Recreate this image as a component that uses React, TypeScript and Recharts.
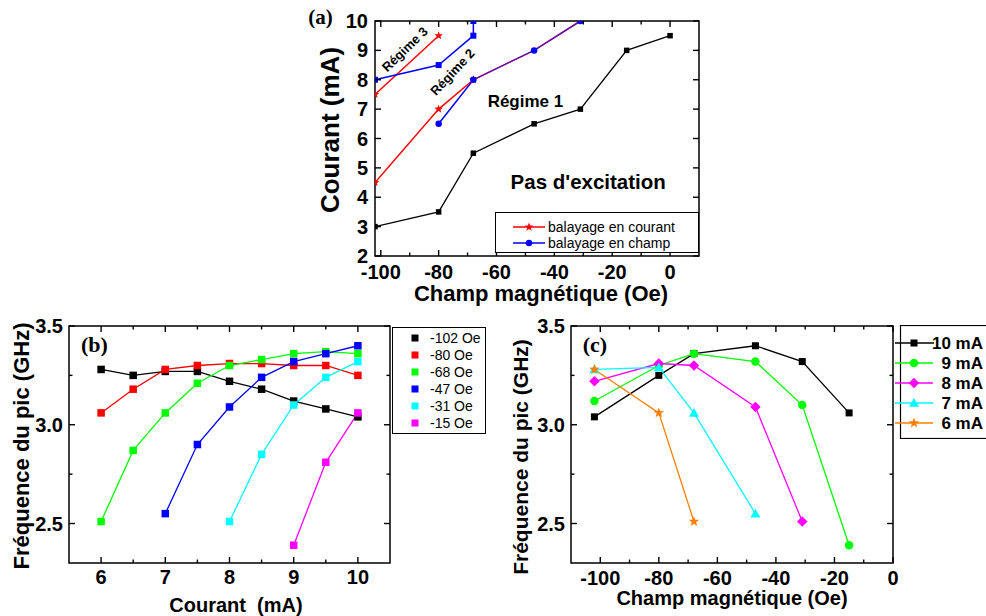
import React from 'react';
import { LineChart, Line, XAxis, YAxis, ReferenceArea, ReferenceDot, Legend } from 'recharts';

const FONT = "'Liberation Sans', Arial, Helvetica, sans-serif";
const SERIF = "'Liberation Serif', 'Times New Roman', serif";

// ---------------- Panel (a): Courant vs Champ ----------------
const fieldRegime1 = [-102, -80, -68, -47, -31, -15, 0];
const currentRegime1 = [3, 3.5, 5.5, 6.5, 7, 9, 9.5];
const fieldCourantLow = [-102, -80, -68];
const currentCourantLow = [4.5, 7, 8];
const fieldCourantShared = [-68, -47, -31];
const currentCourantShared = [8, 9, 10];
const fieldCourantHigh = [-102, -80];
const currentCourantHigh = [7.5, 9.5];
const fieldChampLow = [-80, -68, -47, -31];
const currentChampLow = [6.5, 8, 9, 10];
const fieldChampHigh = [-102, -80, -68, -68];
const currentChampHigh = [8, 8.5, 9.5, 10];
const ticksAX = [-100, -90, -80, -70, -60, -50, -40, -30, -20, -10, 0];
const labelsAX = [-100, -80, -60, -40, -20, 0];
const ticksAY = [2, 3, 4, 5, 6, 7, 8, 9, 10];

// ---------------- Panel (b): Fréquence vs Courant ----------------
const currentsB = [6, 6.5, 7, 7.5, 8, 8.5, 9, 9.5, 10];
const freqM102 = [3.28, 3.25, 3.27, 3.27, 3.22, 3.18, 3.12, 3.08, 3.04];
const freqM80 = [3.06, 3.18, 3.28, 3.30, 3.31, 3.31, 3.30, 3.30, 3.25];
const freqM68 = [2.51, 2.87, 3.06, 3.21, 3.30, 3.33, 3.36, 3.37, 3.36];
const freqM47 = [2.55, 2.90, 3.09, 3.24, 3.32, 3.36, 3.40];
const freqM31 = [2.51, 2.85, 3.10, 3.24, 3.32];
const freqM15 = [2.39, 2.81, 3.06];
const namesB = ['-102 Oe', '-80 Oe', '-68 Oe', '-47 Oe', '-31 Oe', '-15 Oe'];
const colorsB = ['#000000', '#ff0000', '#00ff00', '#0000ff', '#00ffff', '#ff00ff'];
const ticksBX = [6, 6.5, 7, 7.5, 8, 8.5, 9, 9.5, 10];
const labelsBX = [6, 7, 8, 9, 10];
const ticksFreq = [2.5, 2.75, 3, 3.25, 3.5];
const labelsFreq = [2.5, 3, 3.5];

// ---------------- Panel (c): Fréquence vs Champ ----------------
const fieldsC = [-102, -80, -68, -47, -31, -15];
const freq10mA = [3.04, 3.25, 3.36, 3.40, 3.32, 3.06];
const freq9mA = [3.12, 3.30, 3.36, 3.32, 3.10, 2.39];
const freq8mA = [3.22, 3.31, 3.30, 3.09, 2.51];
const freq7mA = [3.28, 3.29, 3.06, 2.55];
const freq6mA = [3.28, 3.06, 2.51];
const namesC = ['10 mA', '9 mA', '8 mA', '7 mA', '6 mA'];
const colorsC = ['#000000', '#00ff00', '#ff00ff', '#00ffff', '#ff8000'];
const shapesC = ['square', 'circle', 'diamond', 'triangle', 'star'];
const sizesC = [7, 8.5, 10.5, 10, 11];
const ticksCX = [-100, -90, -80, -70, -60, -50, -40, -30, -20, -10, 0];
const labelsCX = [-100, -80, -60, -40, -20, 0];

type Pt = { x: number; y: number };
const zip = (xs: number[], ys: number[]): Pt[] => xs.map((x, i) => ({ x, y: ys[i] }));

function starPath(cx: number, cy: number, R: number) {
  const r = R * 0.42;
  let d = '';
  for (let i = 0; i < 10; i++) {
    const rad = i % 2 === 0 ? R : r;
    const a = -Math.PI / 2 + (i * Math.PI) / 5;
    d += (i === 0 ? 'M' : 'L') + (cx + rad * Math.cos(a)).toFixed(2) + ',' + (cy + rad * Math.sin(a)).toFixed(2);
  }
  return d + 'Z';
}

function Marker({ shape, cx, cy, size, color }: { shape: string; cx: number; cy: number; size: number; color: string }) {
  if (cx == null || cy == null || isNaN(cx) || isNaN(cy)) return null;
  const h = size / 2;
  switch (shape) {
    case 'square':
      return <rect x={cx - h} y={cy - h} width={size} height={size} fill={color} />;
    case 'circle':
      return <circle cx={cx} cy={cy} r={h} fill={color} />;
    case 'diamond':
      return <path d={`M${cx},${cy - h}L${cx + h},${cy}L${cx},${cy + h}L${cx - h},${cy}Z`} fill={color} />;
    case 'triangle':
      return <path d={`M${cx},${cy - h}L${cx + h},${cy + h * 0.75}L${cx - h},${cy + h * 0.75}Z`} fill={color} />;
    case 'star':
      return <path d={starPath(cx, cy, h)} fill={color} />;
  }
  return null;
}

const dotOf = (shape: string, size: number, color: string) => (p: any) => (
  <Marker key={`d${p.index}`} shape={shape} cx={p.cx} cy={p.cy} size={size} color={color} />
);

const fmtInt = (v: number) => String(v);
const fmt1 = (v: number) => v.toFixed(1);

function xTick(plotH: number, labels: number[], dy: number, fmt: (v: number) => string) {
  return (p: any) => {
    const { x, y, payload } = p;
    const v = payload.value;
    const major = labels.includes(v);
    const len = major ? 6 : 3.5;
    return (
      <g>
        <line x1={x} x2={x} y1={y} y2={y - len} stroke="#000" strokeWidth={1.4} />
        <line x1={x} x2={x} y1={y - plotH} y2={y - plotH + len} stroke="#000" strokeWidth={1.4} />
        {major && (
          <text x={x} y={y + dy} textAnchor="middle" fontFamily={FONT} fontWeight="bold" fontSize={20} fill="#000">
            {fmt(v)}
          </text>
        )}
      </g>
    );
  };
}

function yTick(plotW: number, labels: number[], dx: number, fmt: (v: number) => string) {
  return (p: any) => {
    const { x, y, payload } = p;
    const v = payload.value;
    const major = labels.includes(v);
    const len = major ? 6 : 3.5;
    return (
      <g>
        <line x1={x} x2={x + len} y1={y} y2={y} stroke="#000" strokeWidth={1.4} />
        <line x1={x + plotW} x2={x + plotW - len} y1={y} y2={y} stroke="#000" strokeWidth={1.4} />
        {major && (
          <text x={x + dx} y={y + 7} textAnchor="end" fontFamily={FONT} fontWeight="bold" fontSize={20} fill="#000">
            {fmt(v)}
          </text>
        )}
      </g>
    );
  };
}

const textLabel = (value: string, size: number, angle = 0) => ({
  content: (p: any) => {
    const vb = p.viewBox || {};
    const cx = (vb.x || 0) + (vb.width || 0) / 2;
    const cy = (vb.y || 0) + (vb.height || 0) / 2;
    return (
      <text
        transform={`translate(${cx},${cy}) rotate(${angle})`}
        textAnchor="middle"
        dominantBaseline="central"
        fontFamily={FONT}
        fontWeight="bold"
        fontSize={size}
        fill="#000"
      >
        {value}
      </text>
    );
  },
});

function PanelA() {
  const plotW = 324;
  const plotH = 235;
  return (
    <LineChart width={420} height={320} margin={{ top: 21, right: 21, bottom: 0, left: 0 }}>
      <XAxis
        type="number"
        dataKey="x"
        domain={[-102, 10]}
        allowDataOverflow
        ticks={ticksAX}
        interval={0}
        tick={xTick(plotH, labelsAX, 23, fmtInt)}
        tickLine={false}
        axisLine={false}
        tickSize={0}
        tickMargin={0}
        height={64}
        label={{
          content: () => (
            <text x={241} y={301} textAnchor="middle" fontFamily={FONT} fontWeight="bold" fontSize={22} fill="#000">
              Champ magnétique (Oe)
            </text>
          ),
        }}
      />
      <YAxis
        type="number"
        domain={[2, 10]}
        allowDataOverflow
        ticks={ticksAY}
        interval={0}
        tick={yTick(plotW, ticksAY, -7, fmtInt)}
        tickLine={false}
        axisLine={false}
        tickSize={0}
        tickMargin={0}
        width={75}
        label={{
          content: () => (
            <g>
              <text transform="translate(39,130) rotate(-90)" textAnchor="middle" fontFamily={FONT} fontWeight="bold" fontSize={26} fill="#000">
                Courant (mA)
              </text>
              <text x={20.5} y={24} textAnchor="middle" fontFamily={SERIF} fontWeight="bold" fontSize={21} fill="#000">
                (a)
              </text>
            </g>
          ),
        }}
      />
      <ReferenceArea x1={-102} x2={10} y1={2} y2={10} fill="none" stroke="#000" strokeWidth={1.5} ifOverflow="visible" />
      <Line data={zip(fieldRegime1, currentRegime1)} dataKey="y" stroke="#000" strokeWidth={1.3} dot={dotOf('square', 5.5, '#000')} activeDot={false} isAnimationActive={false} legendType="none" />
      <Line data={zip(fieldCourantLow, currentCourantLow)} dataKey="y" stroke="#ff0000" strokeWidth={1.5} dot={dotOf('star', 9, '#ff0000')} activeDot={false} isAnimationActive={false} legendType="none" />
      <Line data={zip(fieldCourantHigh, currentCourantHigh)} dataKey="y" stroke="#ff0000" strokeWidth={1.5} dot={dotOf('star', 9, '#ff0000')} activeDot={false} isAnimationActive={false} legendType="none" />
      <Line data={zip(fieldChampLow, currentChampLow)} dataKey="y" stroke="#0000ff" strokeWidth={1.5} dot={dotOf('circle', 6.5, '#0000ff')} activeDot={false} isAnimationActive={false} legendType="none" />
      <Line data={zip(fieldChampHigh, currentChampHigh)} dataKey="y" stroke="#0000ff" strokeWidth={1.5} dot={dotOf('square', 6, '#0000ff')} activeDot={false} isAnimationActive={false} legendType="none" />
      <Line data={zip(fieldCourantShared, currentCourantShared)} dataKey="y" stroke="#ff0000" strokeOpacity={0.45} strokeWidth={1.5} dot={false} activeDot={false} isAnimationActive={false} legendType="none" />
      <ReferenceDot x={-50} y={7.27} r={0} fill="none" stroke="none" label={textLabel('Régime 1', 17)} />
      <ReferenceDot x={-28.3} y={4.52} r={0} fill="none" stroke="none" label={textLabel("Pas d'excitation", 20.5)} />
      <ReferenceDot x={-91.7} y={9.04} r={0} fill="none" stroke="none" label={textLabel('Régime 3', 13, -44)} />
      <ReferenceDot x={-75.2} y={8.26} r={0} fill="none" stroke="none" label={textLabel('Régime 2', 13, -47)} />
      <Legend
        layout="vertical"
        align="center"
        verticalAlign="middle"
        wrapperStyle={{ left: 195, top: 212, width: 204, height: 41, margin: 0, padding: 0, lineHeight: 0 }}
        content={() => (
          <svg width={204} height={41} style={{ display: 'block' }}>
            <rect x={0.5} y={0.5} width={203} height={40} fill="#fff" stroke="#000" strokeWidth={1} />
            <line x1={18} x2={50} y1={15} y2={15} stroke="#ff0000" strokeWidth={1.5} />
            <Marker shape="star" cx={34} cy={15} size={9} color="#ff0000" />
            <text x={53} y={20} fontFamily={FONT} fontSize={14} fill="#000">balayage en courant</text>
            <line x1={18} x2={50} y1={31} y2={31} stroke="#0000ff" strokeWidth={1.5} />
            <Marker shape="circle" cx={34} cy={31} size={6.5} color="#0000ff" />
            <text x={53} y={36} fontFamily={FONT} fontSize={14} fill="#000">balayage en champ</text>
          </svg>
        )}
      />
    </LineChart>
  );
}

function PanelB() {
  const plotW = 321;
  const plotH = 237;
  const seriesB = [freqM102, freqM80, freqM68, freqM47, freqM31, freqM15];
  return (
    <LineChart width={500} height={306} margin={{ top: 16, right: 110, bottom: 0, left: 0 }}>
      <XAxis
        type="number"
        dataKey="x"
        domain={[5.5, 10.5]}
        allowDataOverflow
        ticks={ticksBX}
        interval={0}
        tick={xTick(plotH, labelsBX, 21, fmtInt)}
        tickLine={false}
        axisLine={false}
        tickSize={0}
        tickMargin={0}
        height={53}
        label={{
          content: () => (
            <text x={236} y={302} textAnchor="middle" fontFamily={FONT} fontWeight="bold" fontSize={20} fill="#000" style={{ whiteSpace: 'pre' }}>
              {'Courant  (mA)'}
            </text>
          ),
        }}
      />
      <YAxis
        type="number"
        domain={[2.3, 3.5]}
        allowDataOverflow
        ticks={ticksFreq}
        interval={0}
        tick={yTick(plotW, labelsFreq, -6, fmt1)}
        tickLine={false}
        axisLine={false}
        tickSize={0}
        tickMargin={0}
        width={69}
        label={{
          content: () => (
            <g>
              <text transform="translate(29,136) rotate(-90)" textAnchor="middle" fontFamily={FONT} fontWeight="bold" fontSize={22} fill="#000">
                Fréquence du pic (GHz)
              </text>
              <text x={94.5} y={42} textAnchor="middle" fontFamily={SERIF} fontWeight="bold" fontSize={22} fill="#000">
                (b)
              </text>
            </g>
          ),
        }}
      />
      <ReferenceArea x1={5.5} x2={10.5} y1={2.3} y2={3.5} fill="none" stroke="#000" strokeWidth={1.5} ifOverflow="visible" />
      {seriesB.map((f, i) => (
        <Line
          key={namesB[i]}
          name={namesB[i]}
          data={zip(currentsB.slice(currentsB.length - f.length), f)}
          dataKey="y"
          stroke={colorsB[i]}
          strokeWidth={1.3}
          dot={dotOf('square', 7.5, colorsB[i])}
          activeDot={false}
          isAnimationActive={false}
        />
      ))}
      <Legend
        layout="vertical"
        align="center"
        verticalAlign="middle"
        wrapperStyle={{ left: 392, top: 17, width: 94, height: 107, margin: 0, padding: 0, lineHeight: 0 }}
        content={() => (
          <svg width={94} height={107} style={{ display: 'block' }}>
            <rect x={0.5} y={0.5} width={93} height={106} fill="#fff" stroke="#000" strokeWidth={1} />
            {namesB.map((n, i) => (
              <g key={n}>
                <Marker shape="square" cx={23} cy={11 + 17 * i} size={7} color={colorsB[i]} />
                <text x={38} y={16 + 17 * i} fontFamily={FONT} fontSize={14} fill="#000">{n}</text>
              </g>
            ))}
          </svg>
        )}
      />
    </LineChart>
  );
}

function PanelC() {
  const plotW = 322;
  const plotH = 237;
  const seriesC = [freq10mA, freq9mA, freq8mA, freq7mA, freq6mA];
  return (
    <LineChart width={496} height={306} margin={{ top: 16, right: 93, bottom: 0, left: 0 }}>
      <XAxis
        type="number"
        dataKey="x"
        domain={[-110, 0]}
        allowDataOverflow
        ticks={ticksCX}
        interval={0}
        tick={xTick(plotH, labelsCX, 22, fmtInt)}
        tickLine={false}
        axisLine={false}
        tickSize={0}
        tickMargin={0}
        height={53}
        label={{
          content: () => (
            <text x={242} y={295} textAnchor="middle" fontFamily={FONT} fontWeight="bold" fontSize={20} fill="#000">
              Champ magnétique (Oe)
            </text>
          ),
        }}
      />
      <YAxis
        type="number"
        domain={[2.3, 3.5]}
        allowDataOverflow
        ticks={ticksFreq}
        interval={0}
        tick={yTick(plotW, labelsFreq, -6, fmt1)}
        tickLine={false}
        axisLine={false}
        tickSize={0}
        tickMargin={0}
        width={81}
        label={{
          content: () => (
            <g>
              <text transform="translate(38,147) rotate(-90)" textAnchor="middle" fontFamily={FONT} fontWeight="bold" fontSize={21} fill="#000">
                Fréquence du pic (GHz)
              </text>
              <text x={105} y={42} textAnchor="middle" fontFamily={SERIF} fontWeight="bold" fontSize={22} fill="#000">
                (c)
              </text>
            </g>
          ),
        }}
      />
      <ReferenceArea x1={-110} x2={0} y1={2.3} y2={3.5} fill="none" stroke="#000" strokeWidth={1.5} ifOverflow="visible" />
      {seriesC.map((f, i) => (
        <Line
          key={namesC[i]}
          name={namesC[i]}
          data={zip(fieldsC.slice(0, f.length), f)}
          dataKey="y"
          stroke={colorsC[i]}
          strokeWidth={1.3}
          dot={dotOf(shapesC[i], sizesC[i], colorsC[i])}
          activeDot={false}
          isAnimationActive={false}
        />
      ))}
      <Legend
        layout="vertical"
        align="center"
        verticalAlign="middle"
        wrapperStyle={{ left: 400, top: 15, width: 96, height: 114, margin: 0, padding: 0, lineHeight: 0 }}
        content={() => (
          <svg width={96} height={114} style={{ display: 'block' }}>
            <rect x={10.5} y={0.5} width={100} height={113} fill="#fff" stroke="#000" strokeWidth={1.2} />
            {namesC.map((n, i) => (
              <g key={n}>
                <line x1={5} x2={i === 0 ? 44 : 43} y1={18 + 20 * i} y2={18 + 20 * i} stroke={colorsC[i]} strokeWidth={1.3} />
                <Marker shape={shapesC[i]} cx={24} cy={18 + 20 * i} size={sizesC[i]} color={colorsC[i]} />
                <text x={93} y={24 + 20 * i} textAnchor="end" fontFamily={FONT} fontWeight="bold" fontSize={17} fill="#000">{n}</text>
              </g>
            ))}
          </svg>
        )}
      />
    </LineChart>
  );
}

export default function App() {
  return (
    <div style={{ position: 'absolute', left: 0, top: 0, width: 986, height: 616, overflow: 'hidden', background: '#fff' }}>
      <div style={{ position: 'absolute', left: 300, top: 0 }}>
        <PanelA />
      </div>
      <div style={{ position: 'absolute', left: 0, top: 310 }}>
        <PanelB />
      </div>
      <div style={{ position: 'absolute', left: 490, top: 310 }}>
        <PanelC />
      </div>
    </div>
  );
}
